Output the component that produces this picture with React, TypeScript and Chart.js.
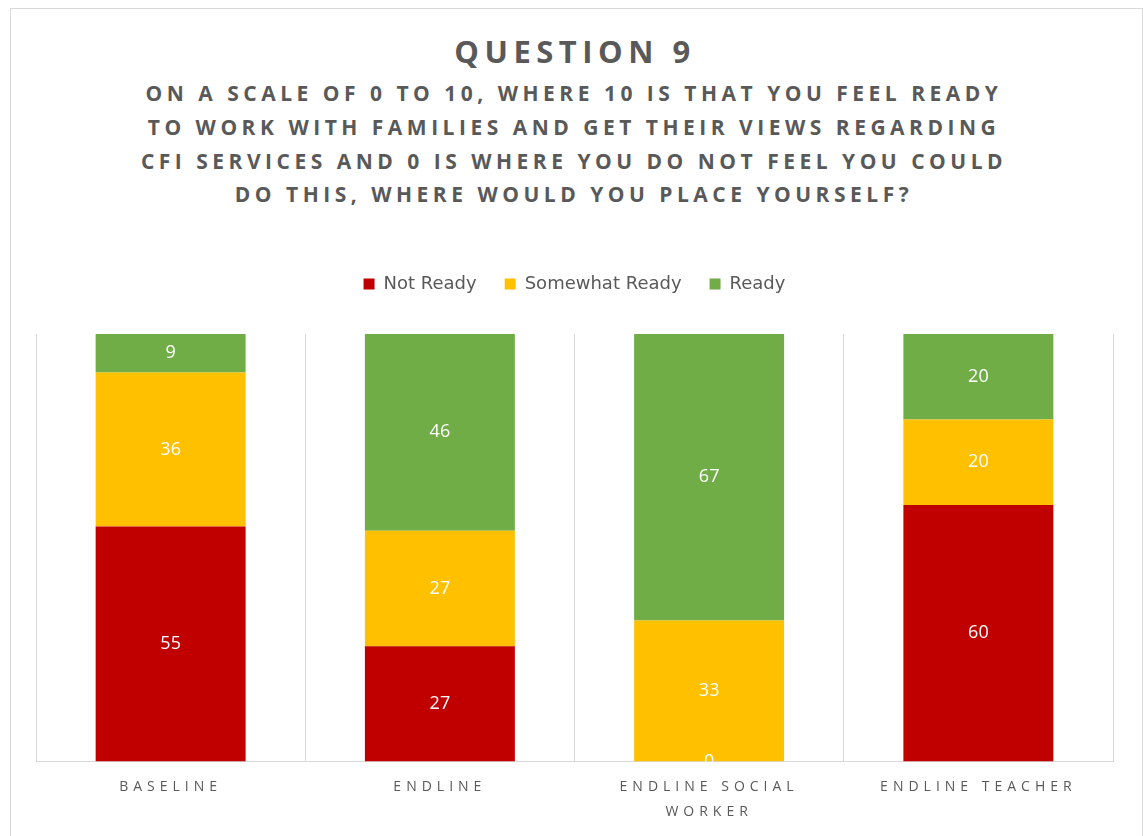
import React, { useEffect, useRef } from 'react';
import { Chart, registerables } from 'chart.js';

Chart.register(...registerables);

const titleText = 'QUESTION 9';
const subtitleLines = [
  'ON A SCALE OF 0 TO 10, WHERE 10 IS THAT YOU FEEL READY',
  'TO WORK WITH FAMILIES AND GET THEIR VIEWS REGARDING',
  'CFI SERVICES AND 0 IS WHERE YOU DO NOT FEEL YOU COULD',
  'DO THIS, WHERE WOULD YOU PLACE YOURSELF?',
];
const categories: (string | string[])[] = ['BASELINE', 'ENDLINE', ['ENDLINE SOCIAL', 'WORKER'], 'ENDLINE TEACHER'];
const seriesNames = ['Not Ready', 'Somewhat Ready', 'Ready'];
const notReady = [55, 27, 0, 60];
const somewhatReady = [36, 27, 33, 20];
const ready = [9, 46, 67, 20];
const seriesColors = ['#C00000', '#FFC000', '#70AD47'];

const valueLabels = {
  id: 'valueLabels',
  beforeDraw(chart: any) {
    (chart.ctx as any).letterSpacing = '0px';
  },
  afterDatasetsDraw(chart: any) {
    const ctx = chart.ctx;
    const area = chart.chartArea;
    ctx.save();
    ctx.beginPath();
    ctx.rect(area.left, area.top, area.right - area.left, area.bottom - area.top);
    ctx.clip();
    ctx.font = '18px "Open Sans"';
    ctx.fillStyle = '#ffffff';
    ctx.textAlign = 'center';
    ctx.textBaseline = 'middle';
    chart.data.datasets.forEach((ds: any, i: number) => {
      const meta = chart.getDatasetMeta(i);
      meta.data.forEach((el: any, j: number) => {
        const p = el.getProps(['x', 'y', 'base'], true);
        ctx.fillText(String(ds.data[j]), p.x, (p.y + p.base) / 2);
      });
    });
    ctx.restore();
    // spacing for the category labels drawn after the datasets
    (ctx as any).letterSpacing = '5px';
  },
  afterDraw(chart: any) {
    (chart.ctx as any).letterSpacing = '0px';
  },
};

export default function App() {
  const canvasRef = useRef<HTMLCanvasElement | null>(null);

  useEffect(() => {
    if (!canvasRef.current) return;
    const values = [notReady, somewhatReady, ready];
    const chart = new Chart(canvasRef.current, {
      type: 'bar',
      data: {
        labels: categories as any,
        datasets: seriesNames.map((name, i) => ({
          label: name,
          data: values[i],
          backgroundColor: seriesColors[i],
          borderWidth: 0,
          barPercentage: 0.557,
          categoryPercentage: 1,
        })),
      },
      options: {
        responsive: false,
        animation: false,
        layout: { padding: { top: 7, left: 25, right: 28, bottom: 12 } },
        plugins: {
          legend: {
            position: 'top',
            labels: {
              boxWidth: 11,
              boxHeight: 11,
              padding: 28,
              color: '#595959',
              font: { family: '"DejaVu Sans"', size: 18 },
            },
          },
          subtitle: {
            display: true,
            text: '',
            weight: 500,
            padding: 0,
            font: { size: 31, lineHeight: 1 },
          } as any,
          title: { display: false },
          tooltip: { enabled: false },
        },
        scales: {
          x: {
            stacked: true,
            grid: { color: '#D9D9D9', offset: true, drawTicks: false },
            border: { color: '#D9D9D9' },
            ticks: {
              color: '#595959',
              font: { family: '"Open Sans"', size: 14, lineHeight: 1.8 },
              padding: 13,
              maxRotation: 0,
              autoSkip: false,
              z: 1,
            },
          },
          y: { stacked: true, display: false, min: 0, max: 100 },
        },
      },
      plugins: [valueLabels],
    });
    return () => chart.destroy();
  }, []);

  const font = '"Open Sans", "DejaVu Sans", sans-serif';
  return (
    <div
      style={{
        position: 'fixed',
        left: 10,
        top: 8,
        width: 1133,
        height: 860,
        boxSizing: 'border-box',
        border: '1px solid #D9D9D9',
        background: '#ffffff',
        overflow: 'hidden',
      }}
    >
      <div
        style={{
          position: 'absolute',
          left: 3,
          top: 24,
          width: 1122,
          textAlign: 'center',
          fontFamily: font,
          fontWeight: 700,
          fontSize: 31,
          lineHeight: '36px',
          letterSpacing: '5.5px',
          color: '#595959',
          whiteSpace: 'nowrap',
        }}
      >
        {titleText}
      </div>
      <div
        style={{
          position: 'absolute',
          left: 2,
          top: 68,
          width: 1122,
          textAlign: 'center',
          fontFamily: font,
          fontWeight: 700,
          fontSize: 21,
          lineHeight: '33.8px',
          letterSpacing: '4.5px',
          color: '#595959',
          whiteSpace: 'nowrap',
        }}
      >
        {subtitleLines.map((l, i) => (
          <div key={i}>{l}</div>
        ))}
      </div>
      <canvas
        ref={canvasRef}
        width={1130}
        height={610}
        style={{ position: 'absolute', left: 0, top: 231, width: 1130, height: 610 }}
      />
    </div>
  );
}
